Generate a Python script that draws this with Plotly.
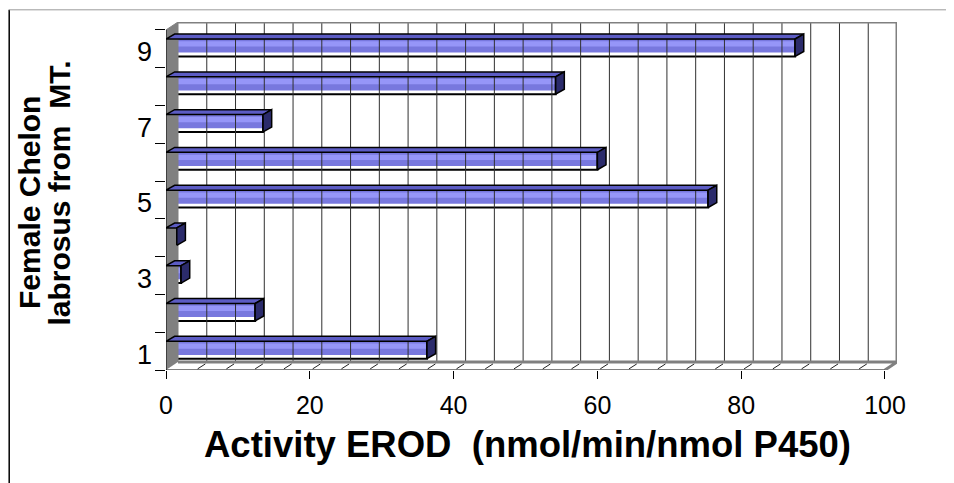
import plotly.graph_objects as go

# data
fish = [1, 2, 3, 4, 5, 6, 7, 8, 9]
erod = [36.3, 12.4, 2.1, 1.5, 75.4, 60.0, 13.5, 54.2, 87.5]
x_ticks = [0, 20, 40, 60, 80, 100]
y_tick_pos = [1, 3, 5, 7, 9]
y_tick_text = ['1', '3', '5', '7', '9']
grid_step = 4

FONT = 'Arial, Liberation Sans, sans-serif'

# 3D look: depth offsets in data units
DXW, DYW = 1.67, 0.21   # walls
DXB, DYB = 1.2, 0.13    # bars
xmax = x_ticks[-1]
ylo, yhi = fish[0] - 0.5, fish[-1] + 0.5

fig = go.Figure()


def poly(xs, ys, fill, line_color, line_width):
    fig.add_trace(go.Scatter(x=xs, y=ys, mode='lines', fill='toself',
                             fillcolor=fill, line=dict(color=line_color, width=line_width),
                             hoverinfo='skip', showlegend=False))


def lines(xs, ys, color, width):
    fig.add_trace(go.Scatter(x=xs, y=ys, mode='lines', line=dict(color=color, width=width),
                             hoverinfo='skip', showlegend=False))


# left wall
poly([0, 0, DXW, DXW, 0], [ylo, yhi, yhi + DYW, ylo + DYW, ylo], '#808080', '#808080', 1)

# back wall gridlines
gx, gy = [], []
for v in range(grid_step, xmax, grid_step):
    gx += [v + DXW, v + DXW, None]
    gy += [ylo + DYW, yhi + DYW, None]
lines(gx, gy, '#303030', 1)
# back wall frame
lines([DXW, xmax + DXW, xmax + DXW], [yhi + DYW, yhi + DYW, ylo + DYW], '#808080', 3)

# floor
poly([0, xmax, xmax + DXW, DXW, 0], [ylo, ylo, ylo + DYW, ylo + DYW, ylo], 'white', 'rgba(0,0,0,0)', 0)
lines([DXW, xmax + DXW, xmax], [ylo + DYW, ylo + DYW, ylo], '#808080', 3)
fx, fy = [], []
for v in range(grid_step, xmax, grid_step):
    fx += [v + 0.4, v + DXW - 0.2, None]
    fy += [ylo + 0.03, ylo + DYW - 0.05, None]
lines(fx, fy, '#202020', 1)

# front axes
lines([0, xmax], [ylo, ylo], 'black', 1)
lines([0, 0], [ylo, yhi], 'black', 1)

# bars: top faces
tx, ty = [], []
for c, v in zip(fish, erod):
    tx += [0, v, v + DXB, DXB, 0, None]
    ty += [c + 0.26, c + 0.26, c + 0.39, c + 0.39, c + 0.26, None]
poly(tx, ty, '#5c5cc4', 'black', 1.5)

# front faces
fig.add_trace(go.Bar(y=[c + 0.08 for c in fish], x=erod, base=0, orientation='h', width=0.36,
                     marker=dict(color='#7878de', line=dict(width=0)),
                     hoverinfo='skip', showlegend=False))
fig.add_trace(go.Bar(y=[c + 0.13 for c in fish], x=erod, base=0, orientation='h', width=0.14,
                     marker=dict(color='#9696f8', line=dict(width=0)),
                     hoverinfo='skip', showlegend=False))
fig.add_trace(go.Bar(y=[c + 0.04 for c in fish], x=[v - 0.3 for v in erod], base=0.3,
                     orientation='h', width=0.48,
                     marker=dict(color='rgba(0,0,0,0)', line=dict(color='black', width=2)),
                     hoverinfo='skip', showlegend=False))

# end caps
cx, cy = [], []
for c, v in zip(fish, erod):
    cx += [v, v, v + DXB, v + DXB, v, None]
    cy += [c - 0.20, c + 0.26, c + 0.39, c - 0.20 + DYB, c - 0.20, None]
poly(cx, cy, '#2b2b6b', 'black', 1.5)

# page body adds an 8px margin, so the figure is 8px smaller each way
fig.update_layout(
    width=946, height=475,
    margin=dict(l=158, r=57, t=14, b=113),
    paper_bgcolor='white', plot_bgcolor='white',
    barmode='overlay',
    font=dict(family=FONT, color='black'),
    xaxis=dict(range=[0, xmax + DXW], tickvals=x_ticks, ticks='outside', ticklen=8,
               tickcolor='black', tickfont=dict(family=FONT, size=25), showgrid=False,
               zeroline=False, showline=False, ticklabelstandoff=5, fixedrange=True),
    yaxis=dict(range=[ylo, yhi + DYW], tickvals=[c - 0.08 for c in y_tick_pos],
               ticktext=y_tick_text, ticks='',
               tickfont=dict(family=FONT, size=27), showgrid=False, zeroline=False,
               showline=False, ticklabelstandoff=13, fixedrange=True,
               minor=dict(tickvals=[c - 0.5 for c in fish] + [yhi], ticks='outside',
                          ticklen=10, tickcolor='black', showgrid=False)),
    shapes=[
        dict(type='line', xref='paper', yref='paper', x0=-0.2145, x1=-0.2145, y0=1.035, y1=-0.5,
             line=dict(color='black', width=1.5)),
        dict(type='line', xref='paper', yref='paper', x0=-0.2145, x1=1.2, y0=1.035, y1=1.035,
             line=dict(color='#999999', width=1)),
    ],
    annotations=[
        dict(text='<b>Activity EROD\u00a0 (nmol/min/nmol P450)</b>', xref='paper', yref='paper',
             x=0.495, y=-0.2155, xanchor='center', yanchor='middle', showarrow=False,
             font=dict(family=FONT, size=36.5)),
        dict(text='<b>Female Chelon</b>', xref='paper', yref='paper', x=-0.186, y=0.48,
             xanchor='center', yanchor='middle', textangle=-90, showarrow=False,
             font=dict(family=FONT, size=30)),
        dict(text='<b>labrosus from\u00a0 MT.</b>', xref='paper', yref='paper', x=-0.1455, y=0.509,
             xanchor='center', yanchor='middle', textangle=-90, showarrow=False,
             font=dict(family=FONT, size=30)),
    ],
)

fig.write_html("out.html")
